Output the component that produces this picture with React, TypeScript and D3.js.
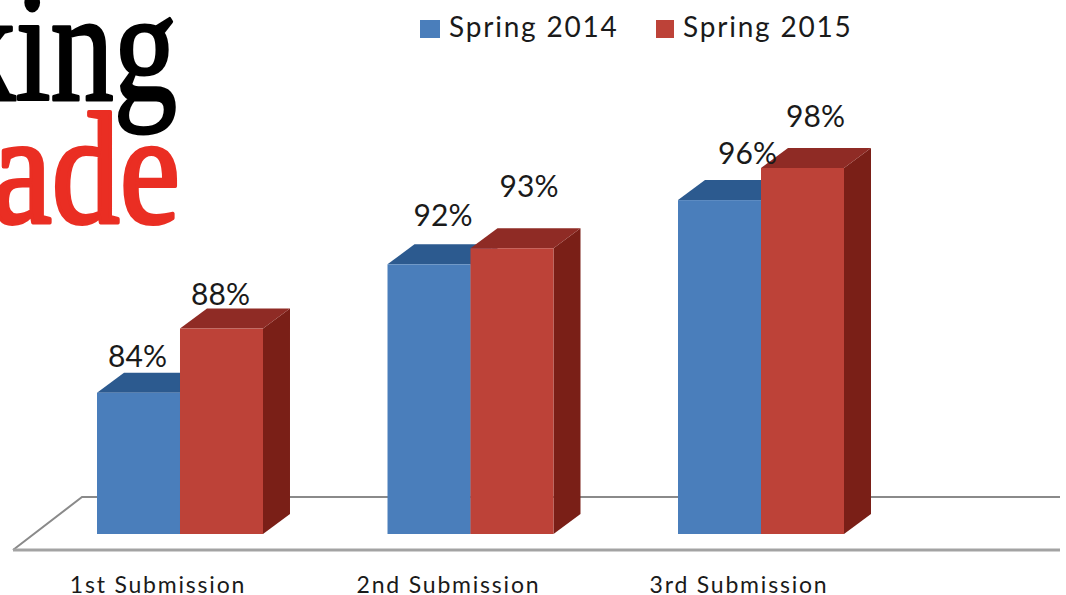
import { scaleBand, scaleLinear, line } from "d3";

const categories = ["1st Submission", "2nd Submission", "3rd Submission"];
const seriesNames = ["Spring 2014", "Spring 2015"];
const spring2014 = [84, 92, 96];
const spring2015 = [88, 93, 98];

const width = 1066;
const height = 595;
const baseY = 534;
const depthX = 27;
const depthY = -20;

const font = "Lato, 'Open Sans', sans-serif";
const palette = [
  { front: "#4a7ebb", top: "#2c5a8f", side: "#2a4f7c" },
  { front: "#bd4238", top: "#8f2b25", side: "#7a1f17" },
];

const x0 = scaleBand<string>().domain(categories).range([97, 844]).paddingInner(0.4286);
const x1 = scaleBand<string>().domain(seriesNames).range([0, x0.bandwidth()]);
const y = scaleLinear().domain([75.2, 98]).range([baseY, 168]);

// labels in the source were moved by hand to sit clear of the bars
const labelShift = [
  [[-1, -26], [-1, -24]],
  [[14, -38], [17, -51]],
  [[28, -36], [13, -41]],
];

const poly = line();

const Floor = () => (
  <g fill="none">
    <path d="M1060,497H82L13,550" stroke="#8a8a8a" strokeWidth={2} />
    <path d="M13,550H1060" stroke="#a3a3a3" strokeWidth={3} />
  </g>
);

const Bar = ({ name, cat, value, s }: any) => {
  const left = (x0(cat) as number) + (x1(name) as number);
  const right = left + x1.bandwidth();
  const top = y(value);
  const c = palette[s];
  return (
    <g>
      <path
        fill={c.side}
        d={poly([[right, top], [right + depthX, top + depthY], [right + depthX, baseY + depthY], [right, baseY]]) + "Z"}
      />
      <path
        fill={c.top}
        d={poly([[left, top], [left + depthX, top + depthY], [right + depthX, top + depthY], [right, top]]) + "Z"}
      />
      <rect x={left} y={top} width={x1.bandwidth()} height={baseY - top} fill={c.front} />
    </g>
  );
};

const BarLabel = ({ name, cat, value, shift }: any) => {
  const left = (x0(cat) as number) + (x1(name) as number);
  return (
    <text
      x={left + x1.bandwidth() / 2 + shift[0]}
      y={y(value) + shift[1]}
      textAnchor="middle"
      fontFamily={font}
      fontSize={30}
      fill="#1a1a1a"
    >
      {value}%
    </text>
  );
};

export default function App() {
  const legendX = [420, 656];
  return (
    <svg
      width={width}
      height={height}
      style={{ position: "absolute", left: 0, top: 0, background: "#fff" }}
    >
      <g fontFamily="'Liberation Serif', serif" fontSize={158} textAnchor="end" strokeLinejoin="round">
        <text transform="translate(177,100) scale(0.8,1)" fill="#000" stroke="#000" strokeWidth={3}>king</text>
        <text transform="translate(180,222) scale(0.86,1)" fill="#ea2e23" stroke="#ea2e23" strokeWidth={4}>ade</text>
      </g>

      <g fontFamily={font} fontSize={28} fill="#1a1a1a" letterSpacing={1.8}>
        {seriesNames.map((d, i) => (
          <g key={d}>
            <rect x={legendX[i]} y={20} width={i ? 18 : 20} height={18} fill={palette[i].front} />
            <text x={legendX[i] + (i ? 27 : 29)} y={37}>{d}</text>
          </g>
        ))}
      </g>

      <Floor />

      {categories.map((cat, k) => (
        <g key={cat}>
          <Bar name={seriesNames[0]} cat={cat} value={spring2014[k]} s={0} />
          <Bar name={seriesNames[1]} cat={cat} value={spring2015[k]} s={1} />
          <text
            x={(x0(cat) as number) + x0.bandwidth() / 2 - 22}
            y={593}
            textAnchor="middle"
            fontFamily={font}
            fontSize={23}
            letterSpacing={1.8}
            fill="#1a1a1a"
          >
            {cat}
          </text>
        </g>
      ))}

      {categories.map((cat, k) => (
        <g key={cat}>
          <BarLabel name={seriesNames[0]} cat={cat} value={spring2014[k]} shift={labelShift[k][0]} />
          <BarLabel name={seriesNames[1]} cat={cat} value={spring2015[k]} shift={labelShift[k][1]} />
        </g>
      ))}
    </svg>
  );
}
